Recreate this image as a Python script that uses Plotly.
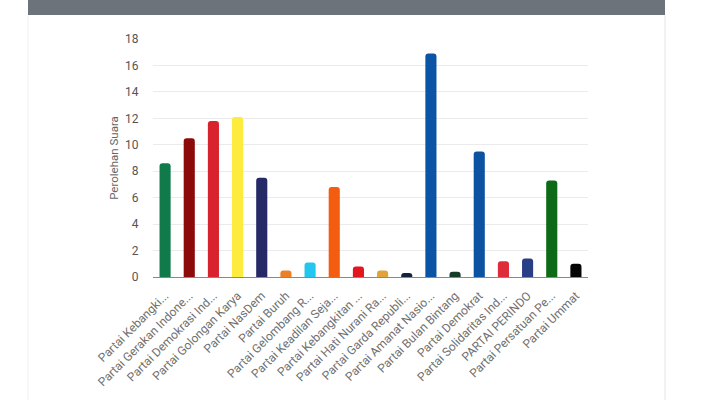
import plotly.graph_objects as go

parties = [
    "Partai Kebangki...", "Partai Gerakan Indone...", "Partai Demokrasi Ind...",
    "Partai Golongan Karya", "Partai NasDem", "Partai Buruh", "Partai Gelombang R...",
    "Partai Keadilan Seja...", "Partai Kebangkitan ...", "Partai Hati Nurani Ra...",
    "Partai Garda Republi...", "Partai Amanat Nasio...", "Partai Bulan Bintang",
    "Partai Demokrat", "Partai Solidaritas Ind...", "PARTAI PERINDO",
    "Partai Persatuan Pe...", "Partai Ummat",
]
votes = [8.6, 10.5, 11.8, 12.1, 7.5, 0.5, 1.1, 6.8, 0.8, 0.5, 0.3, 16.9, 0.4, 9.5, 1.2, 1.4, 7.3, 1.0]
colors = [
    "#107a4b", "#8c0a0a", "#d8232e", "#fdeb3e", "#252a66", "#ef7f24", "#22c6ef",
    "#f45c10", "#e3151d", "#e2a33a", "#13223f", "#0a53a5", "#163b29", "#0b52a0",
    "#df2c3b", "#283f86", "#0d6a16", "#050505",
]
y_ticks = [0, 2, 4, 6, 8, 10, 12, 14, 16, 18]

W, H = 715, 400
L, R, T, B = 153, 127, 39, 123
PW, PH = W - L - R, H - T - B


def px_x(x):
    return (x - L) / PW


def px_y(y):
    return (H - y - B) / PH


fig = go.Figure(go.Bar(
    x=parties, y=votes,
    marker=dict(color=colors, line=dict(width=0), cornerradius=3),
))

fig.update_layout(
    width=W, height=H,
    margin=dict(l=L, r=R, t=T, b=B),
    paper_bgcolor="white", plot_bgcolor="white",
    bargap=0.54,
    showlegend=False,
    font=dict(family="Roboto, Arial, sans-serif", size=12, color="#666"),
    xaxis=dict(
        tickangle=-45, showgrid=False, showline=True, linecolor="#888", linewidth=1,
        ticks="outside", ticklen=6, tickcolor="rgba(0,0,0,0)",
        tickfont=dict(size=12, color="#707070"),
    ),
    yaxis=dict(
        range=[0, 18], tickvals=y_ticks, showgrid=True, gridcolor="#ebebeb",
        zeroline=False, ticks="outside", ticklen=11, tickcolor="rgba(0,0,0,0)",
        tickfont=dict(size=12, color="#555"),
        title=dict(text="Perolehan Suara", font=dict(size=11.5, color="#666"), standoff=4),
    ),
    shapes=[
        dict(type="rect", xref="paper", yref="paper",
             x0=px_x(28), x1=px_x(665),
             y0=px_y(15), y1=px_y(0),
             fillcolor="#6c737b", line=dict(width=0), layer="below"),
        dict(type="line", xref="paper", yref="paper",
             x0=px_x(665), x1=px_x(665),
             y0=px_y(400), y1=px_y(15),
             line=dict(color="#e4e4e4", width=1)),
        dict(type="line", xref="paper", yref="paper",
             x0=px_x(28), x1=px_x(28),
             y0=px_y(400), y1=px_y(15),
             line=dict(color="#f0f0f0", width=1)),
    ],
)

fig.write_html(
    "out.html",
    config={"displayModeBar": False},
    post_script="document.body.style.margin='0';document.body.style.overflow='hidden';",
)
